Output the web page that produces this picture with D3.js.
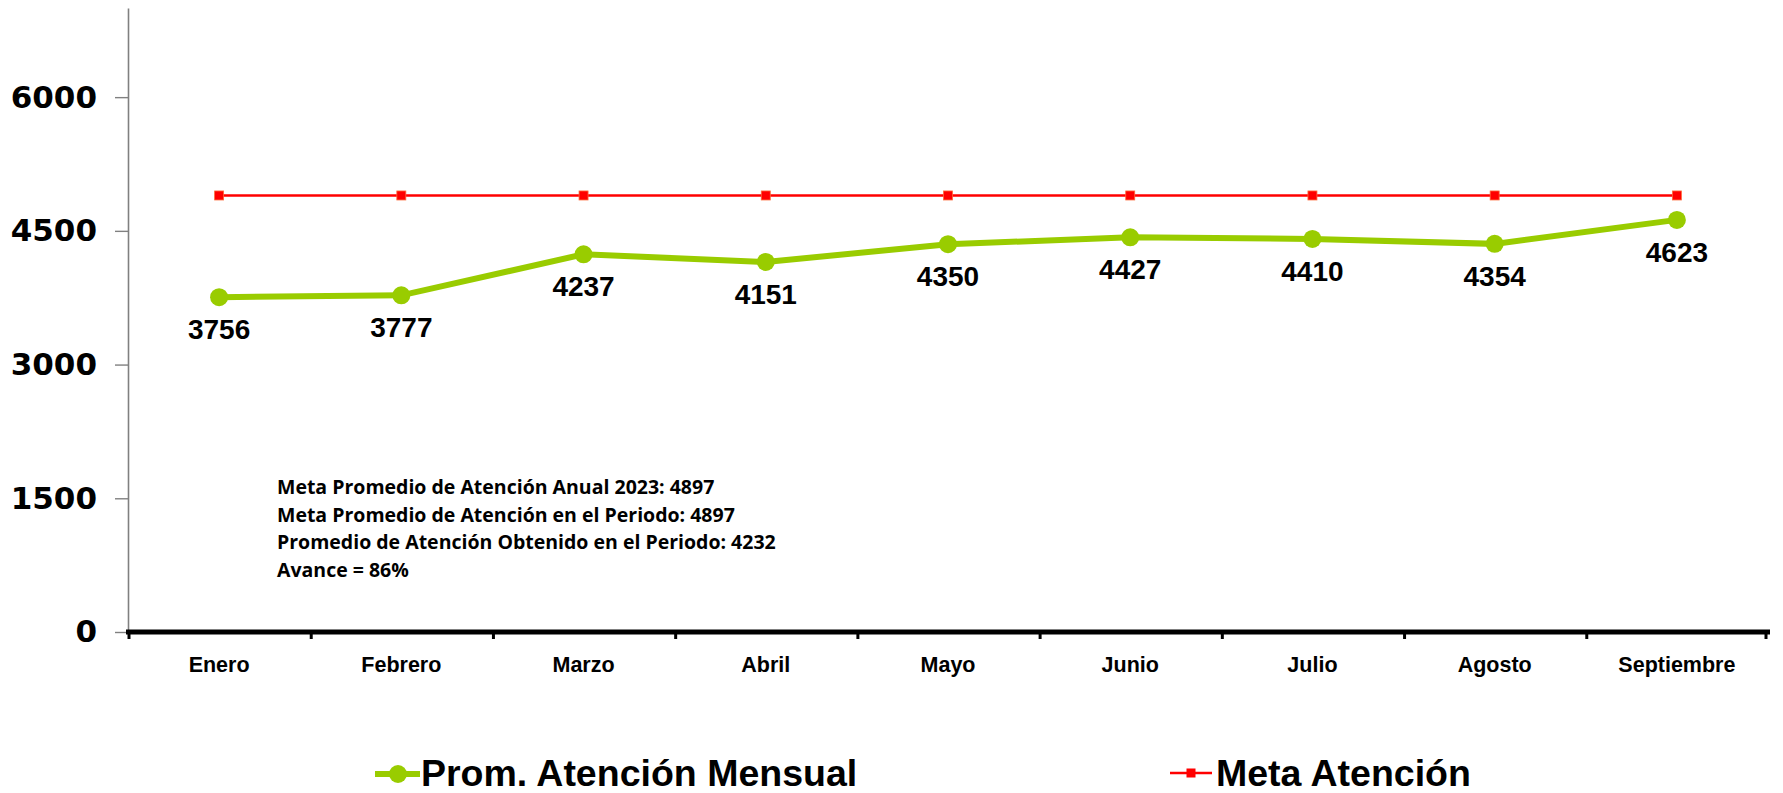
<!DOCTYPE html>
<html>
<head>
<meta charset="utf-8">
<script src="https://cdn.jsdelivr.net/npm/d3@7"></script>
<style>
  body { margin: 0; background: #fff; }
  svg { display: block; }
</style>
</head>
<body>
<svg id="chart" width="1783" height="793"></svg>
<script>
var months = ["Enero", "Febrero", "Marzo", "Abril", "Mayo", "Junio", "Julio", "Agosto", "Septiembre"];
var promAtencion = [3756, 3777, 4237, 4151, 4350, 4427, 4410, 4354, 4623];
var metaAtencion = [4897, 4897, 4897, 4897, 4897, 4897, 4897, 4897, 4897];
var yTicks = [0, 1500, 3000, 4500, 6000];
var notes = [
	"Meta Promedio de Atención Anual 2023: 4897",
	"Meta Promedio de Atención en el Periodo: 4897",
	"Promedio de Atención Obtenido en el Periodo: 4232",
	"Avance = 86%"
];
var seriesNames = ["Prom. Atención Mensual", "Meta Atención"];

var green = "#99cc00",
	red = "#ff0000";

var svg = d3.select("#chart");

var x = d3.scaleBand()
			.domain(months)
			.range([128, 1768])
			.padding(0);

var y = d3.scaleLinear()
			.domain([0, 7000])
			.range([632, 8]);

var cx = function(d, i) { return x(months[i]) + x.bandwidth() / 2; };

// y axis
var yAxis = svg.append("g")
	.attr("transform", "translate(128,0)")
	.call(d3.axisLeft(y).tickValues(yTicks).tickFormat(d3.format("d")).tickSize(13).tickSizeOuter(0).tickPadding(18));
yAxis.select(".domain").attr("stroke", "#808080").attr("stroke-width", 1.6);
yAxis.selectAll(".tick line").attr("stroke", "#808080").attr("stroke-width", 1.4);
yAxis.selectAll(".tick text")
	.attr("font-family", "DejaVu Sans")
	.attr("font-weight", "bold")
	.attr("font-size", 31)
	.attr("fill", "#000");

// x axis: thick baseline, ticks on category boundaries
var xAxis = svg.append("g")
	.attr("transform", "translate(0,632)")
	.call(d3.axisBottom(x).tickSize(0).tickPadding(25));
xAxis.select(".domain").remove();
xAxis.selectAll(".tick text")
	.attr("font-family", "Liberation Sans, Arial")
	.attr("font-weight", "bold")
	.attr("font-size", 21.5)
	.attr("fill", "#000");

svg.append("line")
	.attr("x1", 126).attr("x2", 1770)
	.attr("y1", 632).attr("y2", 632)
	.attr("stroke", "#000")
	.attr("stroke-width", 5);

svg.selectAll(".xbound")
	.data(d3.range(months.length + 1))
	.enter()
	.append("line")
	.attr("class", "xbound")
	.attr("x1", function(d) { return 128 + d * x.bandwidth() + (d == months.length ? -2 : 1); })
	.attr("x2", function(d) { return 128 + d * x.bandwidth() + (d == months.length ? -2 : 1); })
	.attr("y1", 632)
	.attr("y2", 639)
	.attr("stroke", "#000")
	.attr("stroke-width", 3);

var line = d3.line()
			.x(cx)
			.y(function(d) { return y(d); });

// meta line
svg.append("path")
	.datum(metaAtencion)
	.attr("d", line)
	.attr("fill", "none")
	.attr("stroke", red)
	.attr("stroke-width", 2.5);

svg.selectAll(".metapt")
	.data(metaAtencion)
	.enter()
	.append("rect")
	.attr("class", "metapt")
	.attr("x", function(d, i) { return cx(d, i) - 4.5; })
	.attr("y", function(d) { return y(d) - 4.5; })
	.attr("width", 9)
	.attr("height", 9)
	.attr("fill", red)
	.attr("stroke", "#ff6a3a")
	.attr("stroke-width", 0.8);

// monthly average line
svg.append("path")
	.datum(promAtencion)
	.attr("d", line)
	.attr("fill", "none")
	.attr("stroke", green)
	.attr("stroke-width", 6);

svg.selectAll(".prompt")
	.data(promAtencion)
	.enter()
	.append("circle")
	.attr("class", "prompt")
	.attr("cx", cx)
	.attr("cy", function(d) { return y(d); })
	.attr("r", 9)
	.attr("fill", green);

svg.selectAll(".promlabel")
	.data(promAtencion)
	.enter()
	.append("text")
	.attr("class", "promlabel")
	.attr("x", cx)
	.attr("y", function(d) { return y(d) + 42; })
	.attr("text-anchor", "middle")
	.attr("font-family", "Liberation Sans, Arial")
	.attr("font-weight", "bold")
	.attr("font-size", 28)
	.text(function(d) { return d; });

// notes box
svg.selectAll(".note")
	.data(notes)
	.enter()
	.append("text")
	.attr("class", "note")
	.attr("x", 277)
	.attr("y", function(d, i) { return 494 + i * 27.5; })
	.attr("font-family", "Open Sans")
	.attr("font-weight", 700)
	.attr("font-size", 19.5)
	.text(function(d) { return d; });

// legend
var legend = svg.append("g");
legend.append("line")
	.attr("x1", 375).attr("x2", 420)
	.attr("y1", 774).attr("y2", 774)
	.attr("stroke", green).attr("stroke-width", 6);
legend.append("circle")
	.attr("cx", 398).attr("cy", 774).attr("r", 9)
	.attr("fill", green);
legend.append("text")
	.attr("x", 421).attr("y", 786)
	.attr("font-family", "Liberation Sans, Arial")
	.attr("font-weight", "bold")
	.attr("font-size", 37.5)
	.text(seriesNames[0]);

legend.append("line")
	.attr("x1", 1170).attr("x2", 1212)
	.attr("y1", 773).attr("y2", 773)
	.attr("stroke", red).attr("stroke-width", 2.5);
legend.append("rect")
	.attr("x", 1186.5).attr("y", 768.5).attr("width", 9).attr("height", 9)
	.attr("fill", red);
legend.append("text")
	.attr("x", 1216).attr("y", 786)
	.attr("font-family", "Liberation Sans, Arial")
	.attr("font-weight", "bold")
	.attr("font-size", 37.5)
	.text(seriesNames[1]);
</script>
</body>
</html>
